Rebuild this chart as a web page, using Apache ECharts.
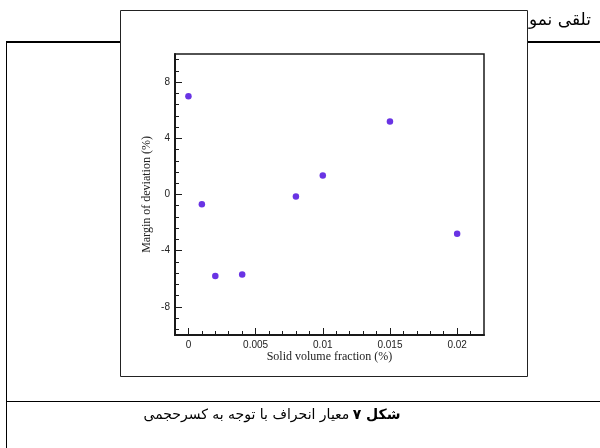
<!DOCTYPE html>
<html><head><meta charset="utf-8">
<script src="https://cdn.jsdelivr.net/npm/echarts@6/dist/echarts.min.js"></script>
<style>html,body{margin:0;padding:0;background:#fff}#c{width:600px;height:448px}</style>
</head><body><div id="c"></div>
<script>
const xValues = [0, 0.001, 0.002, 0.004, 0.008, 0.01, 0.015, 0.02];
const deviation = [7.0, -0.7, -5.8, -5.7, -0.15, 1.35, 5.2, -2.8];
const xMajorTicks = [0, 0.005, 0.01, 0.015, 0.02];
const xMinorTicks = [0.001,0.002,0.003,0.004,0.006,0.007,0.008,0.009,0.011,0.012,0.013,0.014,0.016,0.017,0.018,0.019,0.021];
const yMajorTicks = [-8, -4, 0, 4, 8];
const yMinorTicks = [-9.6,-8.8,-7.2,-6.4,-5.6,-4.8,-3.2,-2.4,-1.6,-0.8,0.8,1.6,2.4,3.2,4.8,5.6,6.4,7.2,8.8,9.6];
const xName = 'Solid volume fraction (%)';
const yName = 'Margin of deviation (%)';
const headerText = 'تلقی نمو';
const captionBold = 'شکل ۷';
const captionRest = 'معیار انحراف با توجه به کسرحجمی';

const chart = echarts.init(document.getElementById('c'), null, {renderer: 'canvas'});
const axisCol = '#1a1a1a';
const labelStyle = {fontFamily: 'Liberation Sans, Arial', fontSize: 10, color: '#222'};
chart.setOption({
  animation: false,
  backgroundColor: '#fff',
  grid: {left: 175, right: 116, top: 54, bottom: 113, show: true, borderColor: axisCol, borderWidth: 1.5, backgroundColor: 'transparent', z: 10},
  xAxis: [{
    type: 'value', min: -0.001, max: 0.022, position: 'bottom',
    name: xName, nameLocation: 'middle', nameGap: 16, nameMoveOverlap: false,
    nameTextStyle: {fontFamily: 'Liberation Serif, Times New Roman', fontSize: 12, color: '#222'},
    axisLine: {show: true, onZero: false, lineStyle: {color: axisCol, width: 2}},
    axisTick: {show: true, inside: true, length: 7, customValues: xMajorTicks, lineStyle: {color: axisCol, width: 1}},
    axisLabel: Object.assign({show: true, margin: 5, customValues: xMajorTicks, showMinLabel: true, showMaxLabel: true}, labelStyle),
    splitLine: {show: false}
  }, {
    type: 'value', min: -0.001, max: 0.022, position: 'bottom',
    axisLine: {show: false, onZero: false},
    axisTick: {show: true, inside: true, length: 4, customValues: xMinorTicks, lineStyle: {color: axisCol, width: 1}},
    axisLabel: {show: false}, splitLine: {show: false}
  }],
  yAxis: [{
    type: 'value', min: -10, max: 10, position: 'left',
    name: yName, nameLocation: 'middle', nameGap: 22, nameRotate: 90, nameMoveOverlap: false,
    nameTextStyle: {fontFamily: 'Liberation Serif, Times New Roman', fontSize: 12, color: '#222'},
    axisLine: {show: true, onZero: false, lineStyle: {color: axisCol, width: 2}},
    axisTick: {show: true, inside: true, length: 7, customValues: yMajorTicks, lineStyle: {color: axisCol, width: 1}},
    axisLabel: Object.assign({show: true, margin: 5, customValues: yMajorTicks}, labelStyle),
    splitLine: {show: false}
  }, {
    type: 'value', min: -10, max: 10, position: 'left',
    axisLine: {show: false, onZero: false},
    axisTick: {show: true, inside: true, length: 4, customValues: yMinorTicks, lineStyle: {color: axisCol, width: 1}},
    axisLabel: {show: false}, splitLine: {show: false}
  }],
  series: [{
    type: 'scatter', xAxisIndex: 0, yAxisIndex: 0,
    data: xValues.map((x, i) => [x, deviation[i]]),
    symbol: 'circle', symbolSize: 6.5,
    itemStyle: {color: '#4400dd'}
  }],
  graphic: [
    {type: 'line', z: -20, shape: {x1: 6, y1: 42, x2: 600, y2: 42}, style: {stroke: '#000', lineWidth: 2}},
    {type: 'line', z: -20, shape: {x1: 6.5, y1: 42, x2: 6.5, y2: 448}, style: {stroke: '#000', lineWidth: 1}},
    {type: 'line', z: -20, shape: {x1: 6, y1: 401.5, x2: 600, y2: 401.5}, style: {stroke: '#000', lineWidth: 1}},
    {type: 'text', z: -20, left: 529, top: 12, style: {text: headerText, fontFamily: 'DejaVu Sans', fontSize: 17, fill: '#000'}},
    {type: 'rect', z: -10, shape: {x: 120.5, y: 10.5, width: 407, height: 366}, style: {fill: '#fff', stroke: '#222', lineWidth: 1}},
    {type: 'text', z: 5, x: 272, y: 415, style: {
      text: '{n|' + captionRest + '} {b|' + captionBold + '}',
      align: 'center', verticalAlign: 'middle',
      rich: {
        n: {fontFamily: 'DejaVu Sans', fontSize: 14, fill: '#000'},
        b: {fontFamily: 'DejaVu Sans', fontSize: 14, fontWeight: 'bold', fill: '#000'}
      }
    }}
  ]
});
</script></body></html>
